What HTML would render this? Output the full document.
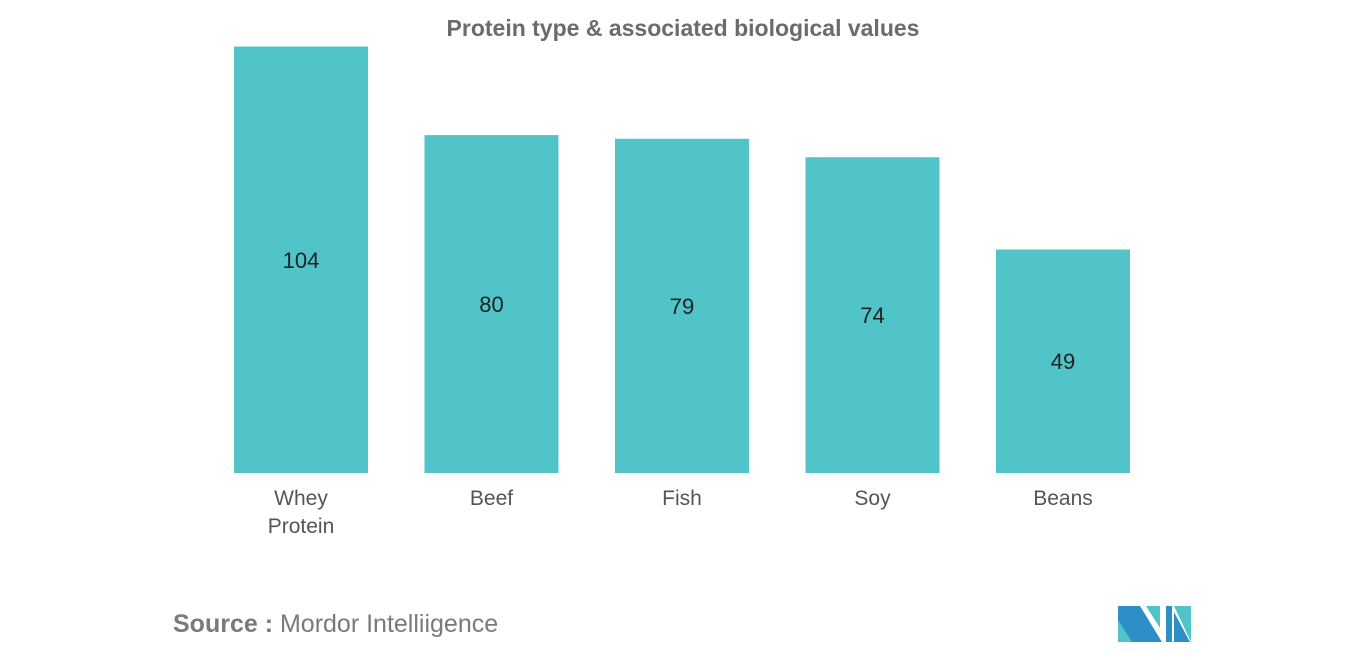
<!DOCTYPE html>
<html><head><meta charset="utf-8"><style>
body{margin:0;width:1366px;height:655px;background:#fff;overflow:hidden;font-family:"Liberation Sans",sans-serif}
</style></head><body>
<svg id="chart" width="1366" height="655" xmlns="http://www.w3.org/2000/svg">
<text x="683" y="36" text-anchor="middle" font-size="23" fill="#6b6b6b" font-weight="bold">Protein type &amp; associated biological values</text>
<g id="bars"></g>
<text x="173" y="632" font-size="25" fill="#7a7a7a"><tspan font-weight="bold">Source :</tspan> Mordor Intelliigence</text>
<g>
<polygon points="1118,606 1140,606 1162,642 1118,642" fill="#2e8fc6"/>
<polygon points="1118,620 1132,642 1118,642" fill="#50c4c9"/>
<polygon points="1146,606 1160,606 1160,628" fill="#50c4c9"/>
<polygon points="1166,606 1172,606 1172,642 1166,642" fill="#2e8fc6"/>
<polygon points="1174,606 1191,606 1191,642" fill="#50c4c9"/>
<polygon points="1174,612 1190,642 1174,642" fill="#2e8fc6"/>
</g>
</svg>
<script>
const categories=[["Whey","Protein"],["Beef"],["Fish"],["Soy"],["Beans"]];
const values=[104,80,79,74,49];
const baseline=473, pxPerUnit=3.69, offset=42.7;
function y(v){return baseline-(offset+pxPerUnit*v);}
function xLeft(i){return 234+i*190.5;}
const g=document.getElementById('bars');
const ns="http://www.w3.org/2000/svg";
values.forEach((v,i)=>{
 const r=document.createElementNS(ns,'rect');
 
 
 r.setAttribute('x',xLeft(i));r.setAttribute('y',y(v));
 r.setAttribute('width',134);r.setAttribute('height',baseline-y(v));
 r.setAttribute('fill','#50c4c9');g.appendChild(r);
 const cx=xLeft(i)+67;
 const t=document.createElementNS(ns,'text');
 
 
 t.setAttribute('x',cx);t.setAttribute('y',(y(v)+baseline)/2+8);
 t.setAttribute('text-anchor','middle');t.setAttribute('font-size','22');t.setAttribute('fill','#222');
 t.textContent=v;g.appendChild(t);
 categories[i].forEach((line,j)=>{
  const c=document.createElementNS(ns,'text');
  
  
  c.setAttribute('x',cx);c.setAttribute('y',505+j*28);
  c.setAttribute('text-anchor','middle');c.setAttribute('font-size','21');c.setAttribute('fill','#555');
  c.textContent=line;g.appendChild(c);
 });
});
</script>
</body></html>
